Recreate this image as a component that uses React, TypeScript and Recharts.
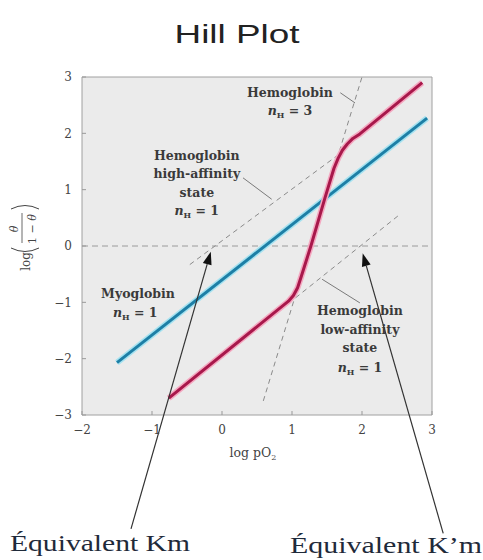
import { LineChart, Line, XAxis, YAxis, ReferenceArea, ReferenceLine, ReferenceDot, Label } from "recharts";

const xTicks = [-2, -1, 0, 1, 2, 3];
const yTicks = [-3, -2, -1, 0, 1, 2, 3];

const myoglobin = [
  { x: -1.5, y: -2.07 },
  { x: 2.93, y: 2.27 },
];

const hemoglobin = [
  { x: -0.76, y: -2.7 },
  { x: 0.95, y: -0.98 },
  { x: 1.02, y: -0.88 },
  { x: 1.08, y: -0.74 },
  { x: 1.13, y: -0.55 },
  { x: 1.27, y: 0 },
  { x: 1.47, y: 0.85 },
  { x: 1.6, y: 1.38 },
  { x: 1.66, y: 1.56 },
  { x: 1.72, y: 1.7 },
  { x: 1.79, y: 1.81 },
  { x: 1.87, y: 1.91 },
  { x: 1.97, y: 1.99 },
  { x: 2.86, y: 2.9 },
];

const highAffinity = [
  { x: -0.46, y: -0.33 },
  { x: 1.75, y: 1.7 },
];
const lowAffinity = [
  { x: 0.95, y: -1.02 },
  { x: 2.55, y: 0.57 },
];
const nH3 = [
  { x: 0.59, y: -2.75 },
  { x: 2.0, y: 3.0 },
];

// label anchors (data coords)
const notes = [
  { x: 0.97, y: 2.72, text: "Hemoglobin" },
  { x: 0.97, y: 2.4, text: "= 3", nH: true },
  { x: -0.36, y: 1.6, text: "Hemoglobin" },
  { x: -0.36, y: 1.28, text: "high-affinity" },
  { x: -0.36, y: 0.94, text: "state" },
  { x: -0.36, y: 0.62, text: "= 1", nH: true },
  { x: -1.2, y: -0.85, text: "Myoglobin" },
  { x: -1.24, y: -1.19, text: "= 1", nH: true },
  { x: 1.97, y: -1.15, text: "Hemoglobin" },
  { x: 1.97, y: -1.49, text: "low-affinity" },
  { x: 1.97, y: -1.81, text: "state" },
  { x: 1.97, y: -2.17, text: "= 1", nH: true },
];

const leaders = [
  [{ x: 1.69, y: 2.72 }, { x: 1.9, y: 2.54 }],
  [{ x: 0.3, y: 1.21 }, { x: 0.71, y: 0.83 }],
  [{ x: 1.43, y: -0.59 }, { x: 1.97, y: -1.01 }],
];

const arrows = [
  [{ x: -1.3, y: -5.02 }, { x: -0.16, y: -0.1 }],
  [{ x: 3.16, y: -5.1 }, { x: 2.01, y: -0.13 }],
];

const serif = "'DejaVu Serif', serif";

const NoteText = (props: any) => {
  const { cx, cy, note } = props;
  if (cx == null || cy == null) return null;
  return (
    <text x={cx} y={cy + 4} textAnchor="middle" fontFamily={serif} fontSize={12.5} fontWeight={600} fill="#3a3a3a">
      {note.nH ? (
        <>
          <tspan fontStyle="italic">n</tspan>
          <tspan fontSize={8} dy={3}>H</tspan>
          <tspan dy={-3}> {note.text}</tspan>
        </>
      ) : (
        note.text
      )}
    </text>
  );
};

const Arrow = (props: any) => {
  const { x1, y1, x2, y2 } = props;
  if (x1 == null) return null;
  const ang = Math.atan2(y2 - y1, x2 - x1);
  const len = 13;
  const w = 4.5;
  const bx = x2 - len * Math.cos(ang);
  const by = y2 - len * Math.sin(ang);
  const px = -Math.sin(ang) * w;
  const py = Math.cos(ang) * w;
  return (
    <g>
      <line x1={x1} y1={y1} x2={bx} y2={by} stroke="#333" strokeWidth={1.2} />
      <polygon points={`${x2},${y2} ${bx + px},${by + py} ${bx - px},${by - py}`} fill="#111" />
    </g>
  );
};

const fmt = (v: number) => String(v).replace("-", "\u2212");

const XLabel = (props: any) => {
  const vb = props.viewBox;
  const cx = vb.x + vb.width / 2 - 4;
  return (
    <text x={cx} y={vb.y + 42} textAnchor="middle" fontFamily={serif} fontSize={12.5} fill="#444">
      log pO<tspan fontSize={8} dy={3}>2</tspan>
    </text>
  );
};

const YLabel = (props: any) => {
  const vb = props.viewBox;
  const cx = vb.x - 16;
  const cy = vb.y + vb.height / 2;
  return (
    <g transform={`translate(${cx},${cy}) rotate(-90)`} fontFamily={serif} fill="#444">
      <text x={-6} y={4} textAnchor="end" fontSize={12}>log</text>
      <path d="M -2 -15 Q -9 -1 -2 13" fill="none" stroke="#444" strokeWidth={1} />
      <text x={17} y={-8} textAnchor="middle" fontSize={11} fontStyle="italic">θ</text>
      <line x1={3} y1={-4} x2={33} y2={-4} stroke="#444" strokeWidth={0.8} />
      <text x={17} y={10} textAnchor="middle" fontSize={11}>
        1 − <tspan fontStyle="italic">θ</tspan>
      </text>
      <path d="M 37 -15 Q 44 -1 37 13" fill="none" stroke="#444" strokeWidth={1} />
    </g>
  );
};

export default function App() {
  const tickStyle = { fontFamily: serif, fontSize: 12, fill: "#444" };
  return (
    <div style={{ position: "relative", width: 483, height: 560, background: "#fff" }}>
      <style>{"body{margin:0}"}</style>
      <LineChart width={483} height={560} margin={{ top: 77, right: 51, bottom: 115, left: 42 }}>
        <XAxis
          type="number"
          dataKey="x"
          domain={[-2, 3]}
          ticks={xTicks}
          allowDataOverflow
          height={30}
          axisLine={false}
          tickSize={-4}
          tickMargin={14}
          tickLine={{ stroke: "#999" }}
          tick={tickStyle}
          tickFormatter={fmt}
        >
          <Label content={XLabel} />
        </XAxis>
        <YAxis
          type="number"
          dataKey="y"
          domain={[-3, 3]}
          ticks={yTicks}
          allowDataOverflow
          width={40}
          axisLine={false}
          tickSize={-4}
          tickMargin={14}
          tickLine={{ stroke: "#999" }}
          tick={tickStyle}
          tickFormatter={fmt}
        >
          <Label content={YLabel} />
        </YAxis>
        <ReferenceArea x1={-2} x2={3} y1={-3} y2={3} fill="#ebebeb" fillOpacity={1} stroke="#a0a0a0" strokeWidth={1} />
        <ReferenceLine y={0} stroke="#9a9a9a" strokeDasharray="6 4" strokeWidth={1} />
        <Line data={highAffinity} dataKey="y" stroke="#8a8a8a" strokeWidth={1} strokeDasharray="5 4" dot={false} activeDot={false} isAnimationActive={false} />
        <Line data={lowAffinity} dataKey="y" stroke="#8a8a8a" strokeWidth={1} strokeDasharray="5 4" dot={false} activeDot={false} isAnimationActive={false} />
        <Line data={nH3} dataKey="y" stroke="#8a8a8a" strokeWidth={1} strokeDasharray="5 4" dot={false} activeDot={false} isAnimationActive={false} />
        {leaders.map((seg, i) => (
          <ReferenceLine key={`ld-${i}`} segment={seg} stroke="#7a7a7a" strokeWidth={1} ifOverflow="visible" />
        ))}
        <Line data={myoglobin} dataKey="y" stroke="#a6e2f0" strokeWidth={6} dot={false} activeDot={false} isAnimationActive={false} />
        <Line data={myoglobin} dataKey="y" stroke="#1d7fa6" strokeWidth={3} dot={false} activeDot={false} isAnimationActive={false} />
        <Line data={hemoglobin} type="linear" dataKey="y" stroke="#f4a8c0" strokeWidth={6} strokeLinejoin="round" dot={false} activeDot={false} isAnimationActive={false} />
        <Line data={hemoglobin} type="linear" dataKey="y" stroke="#a8184b" strokeWidth={3} strokeLinejoin="round" dot={false} activeDot={false} isAnimationActive={false} />
        {notes.map((n, i) => (
          <ReferenceDot key={`n-${i}`} x={n.x} y={n.y} r={0} ifOverflow="visible" shape={(p: any) => <NoteText {...p} note={n} />} />
        ))}
        {arrows.map((seg, i) => (
          <ReferenceLine key={`ar-${i}`} segment={seg} ifOverflow="visible" shape={(p: any) => <Arrow {...p} />} />
        ))}
      </LineChart>
      <svg width={483} height={560} style={{ position: "absolute", left: 0, top: 0, pointerEvents: "none" }}>
        <text x={237} y={43} textAnchor="middle" fontFamily="'Liberation Sans', Arial, sans-serif" fontSize={25} fill="#222" textLength={125} lengthAdjust="spacingAndGlyphs">
          Hill Plot
        </text>
        <text x={10} y={551} fontFamily="'Liberation Serif', serif" fontSize={23} fill="#1f2a3a" textLength={180} lengthAdjust="spacingAndGlyphs">
          Équivalent Km
        </text>
        <text x={290} y={553} fontFamily="'Liberation Serif', serif" fontSize={23} fill="#1f2a3a" textLength={192} lengthAdjust="spacingAndGlyphs">
          Équivalent K’m
        </text>
      </svg>
    </div>
  );
}
